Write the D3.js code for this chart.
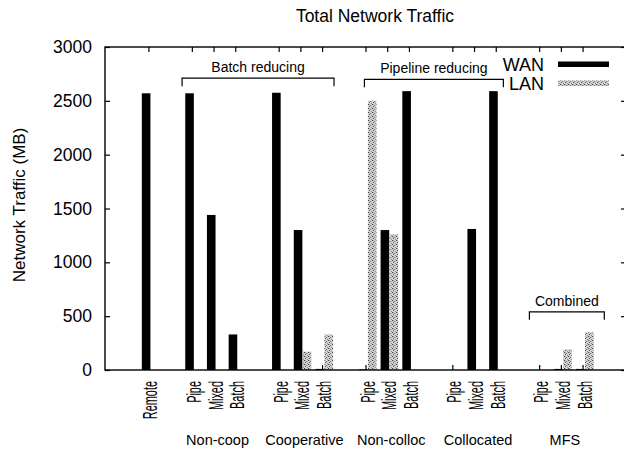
<!DOCTYPE html>
<html><head><meta charset="utf-8">
<script src="https://cdn.jsdelivr.net/npm/d3@7"></script>
<style>
body{margin:0;background:#fff}
text{font-family:"Liberation Sans",Arial,Helvetica,sans-serif;fill:#000}
</style>
</head><body>
<svg id="chart" width="624" height="452"></svg>
<script>
// ---- data ----
const categories = ["Remote","Pipe","Mixed","Batch","Pipe","Mixed","Batch","Pipe","Mixed","Batch","Pipe","Mixed","Batch","Pipe","Mixed","Batch"];
const slots      = [0, 2, 3, 4, 6, 7, 8, 10, 11, 12, 14, 15, 16, 18, 19, 20];
const wanValues  = [2570, 2570, 1440, 330, 2575, 1300, 10, 5, 1300, 2590, 0, 1310, 2590, 0, 10, 10];
const lanValues  = [0, 0, 0, 0, 0, 170, 330, 2500, 1260, 0, 0, 0, 0, 0, 190, 350];
const groupNames   = ["Non-coop","Cooperative","Non-colloc","Collocated","MFS"];
const groupSlots   = [3, 7, 11, 15, 19];
const bracketLabels = ["Batch reducing","Pipeline reducing","Combined"];
const bracketFrom   = [1.55, 9.95, 17.55];
const bracketTo     = [8.55, 16.35, 21.0];
const bracketLevel  = [2710, 2700, 540];
const yTickValues = [0, 500, 1000, 1500, 2000, 2500, 3000];
const seriesNames = ["WAN","LAN"];
const titleText = "Total Network Traffic";
const yTitle = "Network Traffic (MB)";

// ---- layout ----
const L = 105, R = 626, T = 47, B = 370;
const svg = d3.select("#chart");
const x = d3.scaleLinear().domain([-2, 22]).range([L, R]);
const y = d3.scaleLinear().domain([0, 3000]).range([B, T]);
const barW = 8.6;
const FONT = "'Liberation Sans',Arial,Helvetica,sans-serif";

// LAN stipple pattern
const defs = svg.append("defs");
const pat = defs.append("pattern").attr("id","stip").attr("patternUnits","userSpaceOnUse")
  .attr("width",4).attr("height",4);
pat.append("rect").attr("width",4).attr("height",4).attr("fill","#d4d4d4");
[[0,0,"#444"],[2,1,"#777"],[1,2,"#555"],[3,3,"#888"],[3,1,"#bbb"],[1,0,"#aaa"]].forEach(([px,py,c])=>{
  pat.append("rect").attr("x",px).attr("y",py).attr("width",1).attr("height",1).attr("fill",c);
});

// title
svg.append("text").attr("x",375).attr("y",22).attr("text-anchor","middle")
  .attr("font-size",17.5).text(titleText);

// y title
svg.append("text").attr("transform",`translate(25,205) rotate(-90)`)
  .attr("text-anchor","middle").attr("font-size",17).text(yTitle);

// bars
const data = slots.map((s,i)=>({s, cat:categories[i], wan:wanValues[i], lan:lanValues[i]}));
svg.append("g").selectAll("rect").data(data.filter(d=>d.wan>0)).join("rect")
  .attr("x",d=>x(d.s)-6.6).attr("width",barW)
  .attr("y",d=>y(d.wan)).attr("height",d=>B-y(d.wan)).attr("fill","#000");
svg.append("g").selectAll("rect").data(data.filter(d=>d.lan>0)).join("rect")
  .attr("x",d=>x(d.s)+2.4).attr("width",barW)
  .attr("y",d=>y(d.lan)).attr("height",d=>B-y(d.lan)).attr("fill","url(#stip)");

// axes
const axL = svg.append("g").attr("transform",`translate(${L},0)`)
  .call(d3.axisLeft(y).tickValues(yTickValues).tickSize(-5).tickPadding(13).tickFormat(d3.format("d")));
axL.selectAll("text").attr("font-size",17.5);
const axR = svg.append("g").attr("transform",`translate(${R},0)`)
  .call(d3.axisRight(y).tickValues(yTickValues).tickSize(-5).tickFormat(""));
const axT = svg.append("g").attr("transform",`translate(0,${T})`)
  .call(d3.axisTop(x).tickValues(slots).tickSize(-5).tickFormat(""));
const axB = svg.append("g").attr("transform",`translate(0,${B})`)
  .call(d3.axisBottom(x).tickValues(slots).tickSize(-5).tickFormat((d,i)=>categories[i]));
const sc = 0.56;
axB.selectAll("text")
  .attr("font-size",19.5)
  .attr("text-anchor","end")
  .attr("transform",`rotate(-90) scale(${sc},1)`)
  .attr("x",-11/sc).attr("y",1.5).attr("dy","0.36em");
[axL,axR,axT,axB].forEach(a=>{a.select(".domain").remove(); a.selectAll("line").attr("stroke","#000").attr("stroke-width",1.2);});
svg.selectAll(".tick text").attr("font-family",FONT).attr("fill","#000");

// frame
svg.append("rect").attr("x",L).attr("y",T).attr("width",R-L).attr("height",B-T)
  .attr("fill","none").attr("stroke","#000").attr("stroke-width",1.4);

// group labels
svg.append("g").selectAll("text").data(groupNames).join("text")
  .attr("x",(d,i)=>x(groupSlots[i])+4).attr("y",445).attr("text-anchor","middle")
  .attr("font-size",14.5).text(d=>d);

// brackets
bracketLabels.forEach((lab,i)=>{
  const yy = y(bracketLevel[i]);
  svg.append("path")
    .attr("d",`M${x(bracketFrom[i])},${yy+8}V${yy}H${x(bracketTo[i])}V${yy+8}`)
    .attr("fill","none").attr("stroke","#000").attr("stroke-width",1.2);
  svg.append("text").attr("x",(x(bracketFrom[i])+x(bracketTo[i]))/2).attr("y",yy-6)
    .attr("text-anchor","middle").attr("font-size",14).text(lab);
});

// legend
seriesNames.forEach((n,i)=>{
  const ly = 64 + i*19;
  svg.append("text").attr("x",544).attr("y",ly+6.5).attr("text-anchor","end")
    .attr("font-size",18).text(n);
  svg.append("rect").attr("x",558).attr("y",ly-2.5).attr("width",51).attr("height",5.5)
    .attr("fill", i===0 ? "#000" : "url(#stip)");
});
</script>
</body></html>
